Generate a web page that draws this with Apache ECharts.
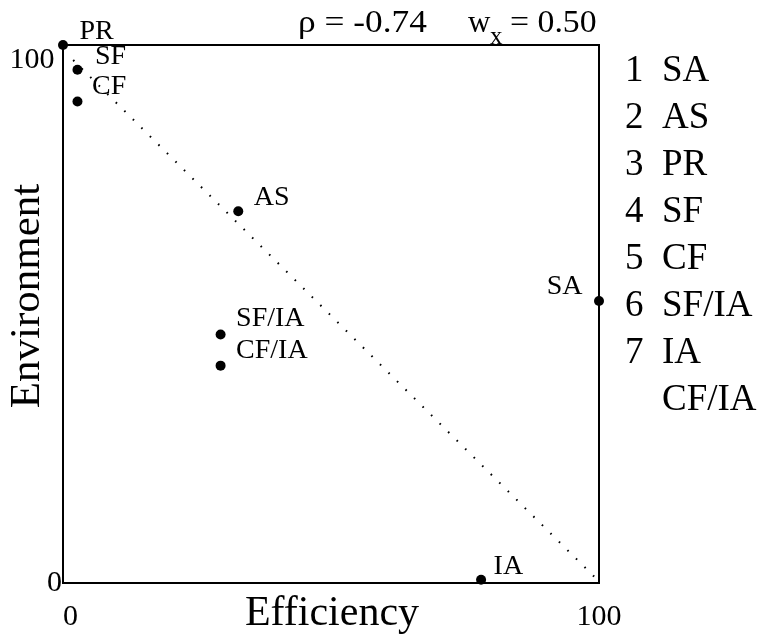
<!DOCTYPE html>
<html><head><meta charset="utf-8">
<script src="https://cdn.jsdelivr.net/npm/echarts@6/dist/echarts.min.js"></script>
<style>html,body{margin:0;padding:0;background:#fff}#c{width:762px;height:637px}</style>
</head><body><div id="c"></div>
<script>
var names = ['PR','SF','CF','AS','SF/IA','CF/IA','SA','IA'];
var effX = [0, 2.7, 2.7, 32.7, 29.4, 29.4, 100, 78];
var envY = [100, 95.4, 89.5, 69.1, 46.2, 40.4, 52.4, 0.6];
var fitX = [1.9, 99.8];
var fitY = [97.2, 0.5];
var legendNums = ['1','2','3','4','5','6','7',''];
var legendNames = ['SA','AS','PR','SF','CF','SF/IA','IA','CF/IA'];
var rhoText = '\u03c1 = -0.74';
var wMain = 'w', wSub = 'x', wValue = '= 0.50';
var xTicks = [0, 100];
var yTicks = [0, 100];
var xName = 'Efficiency', yName = 'Environment';

var FONT = '"Liberation Serif", "Times New Roman", serif';
var labelOffsets = {
  'PR': [6.5, -13], 'SF': [7.5, -13.5], 'CF': [4.5, -15], 'AS': [5.5, -14],
  'SF/IA': [5.5, -16], 'CF/IA': [5.5, -15], 'IA': [2.5, -13], 'SA': [-6.5, -14]
};
var LBL = {fontSize:28, fontFamily:FONT, color:'#000', opacity:1, textBorderWidth:0};
var pts = names.map(function(n, i){
  return {name:n, value:[effX[i], envY[i]], label:Object.assign({
    show:true, position:(n === 'SA' ? 'left' : 'right'), distance:5,
    offset:labelOffsets[n], formatter:n}, LBL)};
});

var chart = echarts.init(document.getElementById('c'));
var g = [];
g.push({type:'text', x:298, y:24, scaleX:1.14, style:{text:rhoText, font:'31px '+FONT, fill:'#000', verticalAlign:'middle', align:'left'}});
g.push({type:'text', x:468, y:24, style:{text:wMain, font:'31px '+FONT, fill:'#000', verticalAlign:'middle', align:'left'}});
g.push({type:'text', x:490, y:37, style:{text:wSub, font:'25px '+FONT, fill:'#000', verticalAlign:'middle', align:'left'}});
g.push({type:'text', x:510, y:24, scaleX:1.09, style:{text:wValue, font:'31px '+FONT, fill:'#000', verticalAlign:'middle', align:'left'}});
for (var i=0;i<legendNames.length;i++){
  var y = 71 + i*47;
  g.push({type:'text', x:625, y:y, style:{text:legendNums[i], font:'37px '+FONT, fill:'#000', verticalAlign:'middle', align:'left'}});
  g.push({type:'text', x:662, y:y, style:{text:legendNames[i], font:'37px '+FONT, fill:'#000', verticalAlign:'middle', align:'left'}});
}
g.push({type:'text', x:332, y:614, style:{text:xName, font:'42px '+FONT, fill:'#000', verticalAlign:'middle', align:'center'}});
g.push({type:'text', x:28, y:296, rotation:Math.PI/2, style:{text:yName, font:'43px '+FONT, fill:'#000', verticalAlign:'middle', align:'center'}});

chart.setOption({
  backgroundColor:'#fff',
  animation:false,
  textStyle:{fontFamily:FONT},
  grid:{left:63, right:163, top:45, bottom:54, show:true, borderColor:'#000', borderWidth:2,
        containLabel:false, outerBoundsMode:'none'},
  xAxis:{type:'value', min:xTicks[0], max:xTicks[1], interval:100,
    axisLine:{show:false}, axisTick:{show:false}, splitLine:{show:false},
    axisLabel:{fontSize:30, fontFamily:FONT, color:'#000', margin:19, alignMinLabel:'left',
      formatter:function(v){return xTicks.indexOf(v)>=0? String(v):'';}}},
  yAxis:{type:'value', min:yTicks[0], max:yTicks[1], interval:100,
    axisLine:{show:false}, axisTick:{show:false}, splitLine:{show:false},
    axisLabel:{fontSize:30, fontFamily:FONT, color:'#000', margin:1, verticalAlignMaxLabel:'top',
      formatter:function(v){return yTicks.indexOf(v)<0 ? '' : (v === yTicks[1] ? String(v)+' ' : String(v));}}},
  graphic:g,
  series:[
    {type:'line', data:fitX.map(function(x,i){return [x, fitY[i]];}), symbol:'none',
     lineStyle:{color:'#000', width:2, type:[1.6,10.4]}, z:1, silent:true},
    {type:'scatter', data:pts, symbol:'circle', symbolSize:10,
     itemStyle:{color:'#000', opacity:1}, label:LBL, z:3}
  ]
});
</script></body></html>
